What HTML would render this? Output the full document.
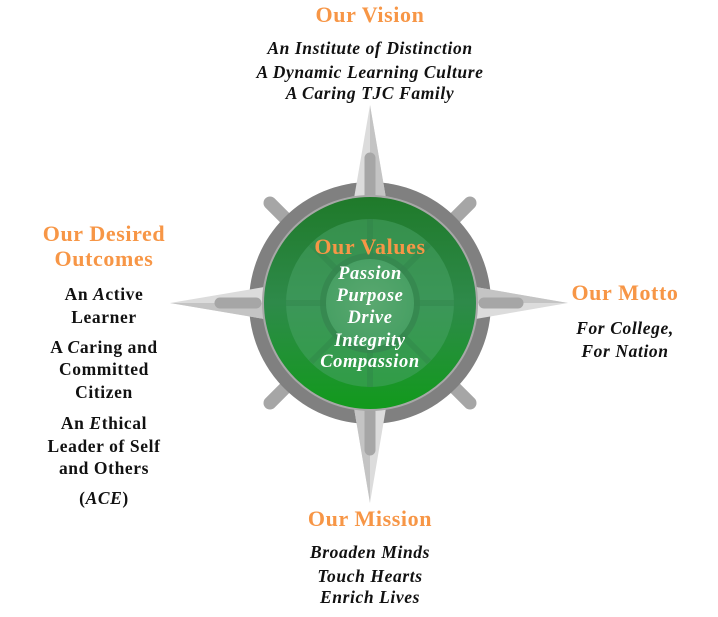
<!DOCTYPE html>
<html><head><style>
html,body{margin:0;padding:0;background:#fff;}
svg{display:block;}
text{font-family:"Liberation Serif",serif;font-weight:bold;text-anchor:middle;}
.o{fill:#f79646;font-size:22px;letter-spacing:0.6px;}
.b{fill:#111;font-size:17.5px;letter-spacing:0.6px;}
.i{font-style:italic;}
.w{fill:#fff;font-size:18.5px;font-style:italic;letter-spacing:0.6px;}
</style></head><body>
<svg width="718" height="617" viewBox="0 0 718 617" xmlns="http://www.w3.org/2000/svg">
<defs>
<radialGradient id="gc" cx="50%" cy="50%" r="50%">
<stop offset="0" stop-color="#5aa870"/><stop offset="1" stop-color="#48a064"/>
</radialGradient>
<linearGradient id="gg" x1="0" y1="0" x2="0" y2="1">
<stop offset="0" stop-color="#1f7a2a"/><stop offset="0.5" stop-color="#2e8a4a"/><stop offset="1" stop-color="#129a1c"/>
</linearGradient>
</defs>
<g stroke="#a6a6a6" stroke-linecap="round">
<line x1="270" y1="203" x2="300" y2="233" stroke-width="13"/>
<line x1="470" y1="203" x2="440" y2="233" stroke-width="13"/>
<line x1="270" y1="403" x2="300" y2="373" stroke-width="13"/>
<line x1="470" y1="403" x2="440" y2="373" stroke-width="13"/>
</g>
<circle cx="370" cy="303" r="121" fill="#808080"/>
<g>
<polygon points="370,105 388,210 370,303 352,210" fill="#dcdcdc"/>
<polygon points="370,105 388,210 370,303" fill="#c4c4c4"/>
<polygon points="370,503 388,396 370,303 352,396" fill="#dcdcdc"/>
<polygon points="370,503 352,396 370,303" fill="#c4c4c4"/>
<polygon points="170,303 276,285 370,303 276,321" fill="#dcdcdc"/>
<polygon points="170,303 276,321 370,303" fill="#c4c4c4"/>
<polygon points="568,303 464,285 370,303 464,321" fill="#dcdcdc"/>
<polygon points="568,303 464,285 370,303" fill="#c4c4c4"/>
</g>
<g stroke="#a6a6a6" stroke-width="11" stroke-linecap="round">
<line x1="370" y1="158" x2="370" y2="195"/>
<line x1="370" y1="412" x2="370" y2="450"/>
<line x1="220" y1="303" x2="256" y2="303"/>
<line x1="484" y1="303" x2="518" y2="303"/>
</g>
<circle cx="370" cy="303" r="108" fill="#a8a8a8"/>
<circle cx="370" cy="303" r="106" fill="url(#gg)"/>
<circle cx="370" cy="303" r="84" fill="#4aa468" opacity="0.5"/>
<g stroke="#2f7f48" stroke-width="6" opacity="0.35">
<line x1="370" y1="219" x2="370" y2="387"/>
<line x1="286" y1="303" x2="454" y2="303"/>
<line x1="311" y1="244" x2="429" y2="362"/>
<line x1="429" y1="244" x2="311" y2="362"/>
</g>
<circle cx="370" cy="303" r="50" fill="#36864f" opacity="0.8"/>
<circle cx="370" cy="303" r="44" fill="url(#gc)"/>
<text class="o" x="370" y="254">Our Values</text>
<text class="w" x="370" y="279">Passion</text>
<text class="w" x="370" y="301">Purpose</text>
<text class="w" x="370" y="323">Drive</text>
<text class="w" x="370" y="346">Integrity</text>
<text class="w" x="370" y="367">Compassion</text>
<text class="o" x="370" y="22">Our Vision</text>
<text class="b i" x="370" y="54">An Institute of Distinction</text>
<text class="b i" x="370" y="78">A Dynamic Learning Culture</text>
<text class="b i" x="370" y="99">A Caring TJC Family</text>
<text class="o" x="370" y="526">Our Mission</text>
<text class="b i" x="370" y="558">Broaden Minds</text>
<text class="b i" x="370" y="582">Touch Hearts</text>
<text class="b i" x="370" y="603">Enrich Lives</text>
<text class="o" x="625" y="300">Our Motto</text>
<text class="b i" x="625" y="334">For College,</text>
<text class="b i" x="625" y="357">For Nation</text>
<text class="o" x="104" y="241">Our Desired</text>
<text class="o" x="104" y="266">Outcomes</text>
<text class="b" x="104" y="300">An <tspan font-style="italic">A</tspan>ctive</text>
<text class="b" x="104" y="323">Learner</text>
<text class="b" x="104" y="353">A <tspan font-style="italic">C</tspan>aring and</text>
<text class="b" x="104" y="375">Committed</text>
<text class="b" x="104" y="398">Citizen</text>
<text class="b" x="104" y="429">An <tspan font-style="italic">E</tspan>thical</text>
<text class="b" x="104" y="452">Leader of Self</text>
<text class="b" x="104" y="474">and Others</text>
<text class="b" x="104" y="504">(<tspan font-style="italic">ACE</tspan>)</text>
</svg>
</body></html>
